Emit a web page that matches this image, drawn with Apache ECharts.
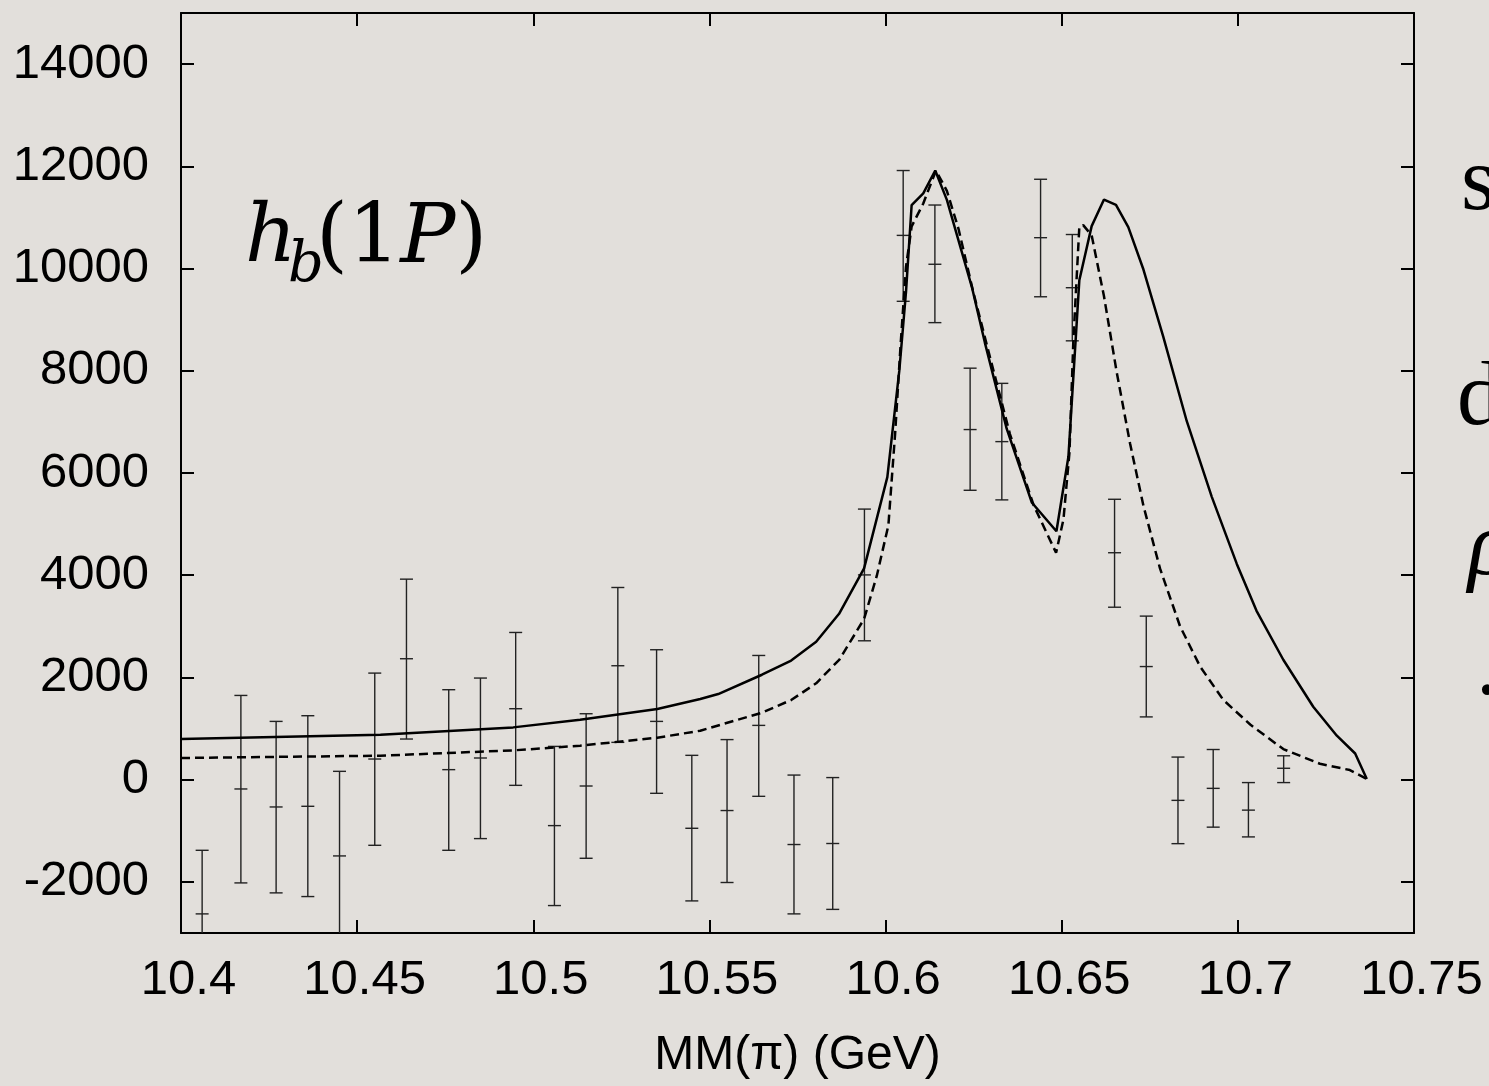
<!DOCTYPE html>
<html><head><meta charset="utf-8">
<script src="https://cdn.jsdelivr.net/npm/echarts@6/dist/echarts.min.js"></script>
<style>html,body{margin:0;padding:0;background:#e2dfdb;} #c{width:1489px;height:1086px;}</style>
</head><body><div id="c"></div>
<script>
// ---- data ----
const yTickValues = [-2000, 0, 2000, 4000, 6000, 8000, 10000, 12000, 14000];

const pointX = [10.406, 10.417, 10.427, 10.436, 10.445, 10.455, 10.464, 10.476, 10.485, 10.495, 10.506, 10.515, 10.524, 10.535, 10.545, 10.555, 10.564, 10.574, 10.585, 10.594, 10.605, 10.614, 10.624, 10.633, 10.644, 10.653, 10.665, 10.674, 10.683, 10.693, 10.703, 10.713];
const pointY = [-2626, -182, -534, -521, -1492, 404, 2366, 196, 424, 1388, -899, -124, 2229, 1140, -951, -604, 1062, -1269, -1249, 4006, 10649, 10084, 6850, 6614, 10604, 9625, 4440, 2213, -405, -170, -596, 223];
const pointHigh = [-1382, 1648, 1140, 1251, 163, 2085, 3923, 1760, 1988, 2880, 651, 1290, 3760, 2542, 476, 784, 2430, 90, 41, 5294, 11918, 11243, 8051, 7754, 11747, 10666, 5486, 3200, 442, 590, -57, 467];
const pointLow = [-3870, -2020, -2215, -2287, -3147, -1284, 795, -1382, -1153, -111, -2463, -1538, 730, -267, -2372, -2012, -326, -2626, -2538, 2717, 9359, 8942, 5662, 5474, 9448, 8586, 3374, 1228, -1252, -929, -1120, -57];

const solidX = [10.400, 10.4566, 10.4943, 10.5133, 10.5352, 10.5474, 10.5525, 10.5649, 10.5732, 10.5803, 10.5868, 10.5939, 10.6005, 10.6039, 10.6058, 10.6074, 10.6107, 10.6141, 10.6174, 10.6245, 10.6282, 10.6344, 10.6415, 10.6485, 10.6519, 10.6550, 10.6585, 10.6620, 10.6654, 10.6689, 10.6732, 10.6788, 10.6855, 10.6926, 10.6997, 10.7053, 10.7129, 10.7214, 10.7281, 10.7333, 10.7366];
const solidY = [795, 880, 1023, 1173, 1382, 1577, 1675, 2053, 2330, 2698, 3245, 4135, 5920, 8002, 9541, 11243, 11472, 11918, 11343, 9638, 8547, 6862, 5424, 4860, 6317, 9770, 10830, 11350, 11247, 10811, 9981, 8673, 7013, 5533, 4221, 3304, 2346, 1427, 860, 512, 14];

const dashedX = [10.400, 10.4566, 10.4943, 10.5133, 10.5352, 10.5474, 10.5540, 10.5649, 10.5732, 10.5803, 10.5869, 10.5939, 10.5975, 10.6008, 10.6027, 10.6043, 10.6058, 10.6074, 10.6107, 10.6143, 10.6174, 10.6207, 10.6249, 10.6297, 10.6353, 10.6420, 10.6484, 10.6505, 10.6522, 10.6533, 10.6550, 10.6561, 10.6585, 10.6620, 10.6656, 10.6694, 10.6732, 10.6779, 10.6836, 10.6893, 10.6959, 10.7035, 10.7129, 10.7233, 10.7318, 10.7366];
const dashedY = [424, 469, 573, 665, 821, 958, 1091, 1310, 1558, 1885, 2350, 3144, 3986, 4977, 6762, 8547, 10033, 10826, 11273, 11918, 11521, 10778, 9539, 8250, 6762, 5374, 4438, 5093, 6403, 8585, 10811, 10850, 10650, 9457, 7977, 6577, 5357, 4133, 2999, 2213, 1558, 1079, 598, 311, 188, 14];

// ---- chart ----
const zip = (a, b) => a.map((v, i) => [v, b[i]]);
const errData = pointX.map((x, i) => [x, pointY[i], pointLow[i], pointHigh[i]]);
const FONT = '"Liberation Sans", Arial, Helvetica, sans-serif';
const SERIF = 'Liberation Serif';
const MATH = 'DejaVu Serif';

const axisLineStyle = { color: '#000', width: 2 };
const chart = echarts.init(document.getElementById('c'), null, { renderer: 'canvas' });

function txt(left, top, text, family, size, italic) {
  return { type: 'text', left: left, top: top,
    style: { text: text, fontFamily: family, fontSize: size, fontStyle: italic ? 'italic' : 'normal', fill: '#000' } };
}

chart.setOption({
  backgroundColor: '#e2dfdb',
  animation: false,
  grid: { left: 181, right: 75, top: 13, bottom: 153, containLabel: false },
  xAxis: [
    {
      type: 'value', min: 10.4, max: 10.75, interval: 0.05, position: 'bottom',
      axisLine: { onZero: false, lineStyle: axisLineStyle },
      axisTick: { inside: true, length: 13, lineStyle: axisLineStyle },
      axisLabel: {
        fontSize: 49, color: '#000', fontFamily: FONT, margin: 23,
        padding: [0, 0, 0, 15], showMinLabel: true, showMaxLabel: true,
        formatter: v => String(+v.toFixed(2))
      },
      splitLine: { show: false },
      name: 'MM(π) (GeV)', nameLocation: 'middle', nameGap: 99,
      nameTextStyle: { fontSize: 48, color: '#000', fontFamily: FONT }
    },
    {
      type: 'value', min: 10.4, max: 10.75, interval: 0.05, position: 'top',
      axisLine: { onZero: false, lineStyle: axisLineStyle },
      axisTick: { inside: true, length: 13, lineStyle: axisLineStyle },
      axisLabel: { show: false }, splitLine: { show: false }
    }
  ],
  yAxis: [
    {
      type: 'value', min: -3000, max: 15000, position: 'left',
      axisLine: { onZero: false, lineStyle: axisLineStyle },
      axisTick: { inside: true, length: 13, lineStyle: axisLineStyle, customValues: yTickValues },
      axisLabel: { customValues: yTickValues, fontSize: 49, color: '#000', fontFamily: FONT, margin: 32,
        formatter: v => String(v) },
      splitLine: { show: false }
    },
    {
      type: 'value', min: -3000, max: 15000, position: 'right',
      axisLine: { onZero: false, lineStyle: axisLineStyle },
      axisTick: { inside: true, length: 13, lineStyle: axisLineStyle, customValues: yTickValues },
      axisLabel: { show: false, customValues: yTickValues }, splitLine: { show: false }
    }
  ],
  series: [
    {
      type: 'line', name: 'model A', data: zip(solidX, solidY), showSymbol: false,
      lineStyle: { color: '#000', width: 2.5 }, z: 3
    },
    {
      type: 'line', name: 'model B', data: zip(dashedX, dashedY), showSymbol: false,
      lineStyle: { color: '#000', width: 2.5, type: [9, 5] }, z: 3
    },
    {
      type: 'custom', name: 'data', data: errData,
      encode: { x: 0, y: 1 },
      renderItem: (params, api) => {
        const x = api.value(0), y = api.value(1), lo = api.value(2), hi = api.value(3);
        const pc = api.coord([x, y]), pl = api.coord([x, lo]), ph = api.coord([x, hi]);
        const cs = params.coordSys;
        const top = cs.y, bot = cs.y + cs.height;
        const half = 6.5;
        const st = { stroke: '#222', lineWidth: 1.4 };
        const ch = [];
        const y1 = Math.max(ph[1], top), y2 = Math.min(pl[1], bot);
        ch.push({ type: 'line', shape: { x1: pc[0], y1: y1, x2: pc[0], y2: y2 }, style: st });
        if (ph[1] >= top) ch.push({ type: 'line', shape: { x1: pc[0] - half, y1: ph[1], x2: pc[0] + half, y2: ph[1] }, style: st });
        if (pl[1] <= bot) ch.push({ type: 'line', shape: { x1: pc[0] - half, y1: pl[1], x2: pc[0] + half, y2: pl[1] }, style: st });
        if (pc[1] >= top && pc[1] <= bot) ch.push({ type: 'line', shape: { x1: pc[0] - half, y1: pc[1], x2: pc[0] + half, y2: pc[1] }, style: st });
        return { type: 'group', children: ch };
      },
      z: 2
    }
  ],
  graphic: [
    txt(245, 200, 'h', MATH, 80, true),
    txt(288, 238, 'b', MATH, 56, true),
    { type: 'text', left: 316, top: 200, style: {
        text: '{r|(1}{i|P}{r|)}',
        rich: {
          r: { fontFamily: MATH, fontSize: 82, fontStyle: 'normal', fill: '#000' },
          i: { fontFamily: MATH, fontSize: 82, fontStyle: 'italic', fill: '#000' }
        }
      } },
    txt(1461, 140, 's', SERIF, 90, false),
    txt(1457, 355, 'd', SERIF, 90, false),
    txt(1468, 505, 'ρ', SERIF, 90, true),
    txt(1476, 625, '.', SERIF, 90, false)
  ]
});
</script>
</body></html>
